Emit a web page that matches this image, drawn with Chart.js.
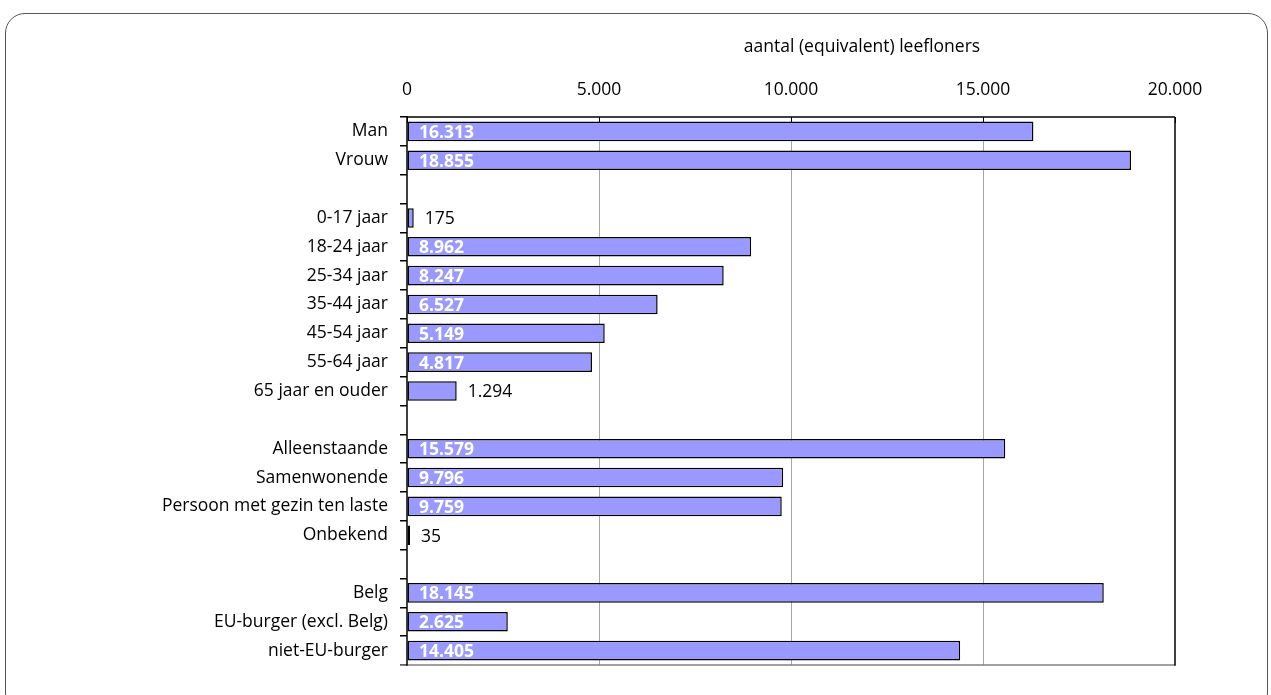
<!DOCTYPE html>
<html>
<head>
<meta charset="utf-8">
<script src="https://cdn.jsdelivr.net/npm/chart.js@4.4.1/dist/chart.umd.min.js"></script>
<style>
  html, body { margin: 0; padding: 0; background: #fff; overflow: hidden; }
  #wrap { position: relative; width: 1271px; height: 695px; overflow: hidden; }
  #frame { position: absolute; left: 5px; top: 13px; width: 1263px; height: 700px;
           border: 1.5px solid #555; border-radius: 20px; box-sizing: border-box; }
  canvas { position: absolute; left: 0; top: 0; }
</style>
</head>
<body>
<div id="wrap">
  <div id="frame"></div>
  <canvas id="c" width="1271" height="695"></canvas>
</div>
<script>
const categories = [
  'Man', 'Vrouw', '',
  '0-17 jaar', '18-24 jaar', '25-34 jaar', '35-44 jaar', '45-54 jaar', '55-64 jaar', '65 jaar en ouder', '',
  'Alleenstaande', 'Samenwonende', 'Persoon met gezin ten laste', 'Onbekend', '',
  'Belg', 'EU-burger (excl. Belg)', 'niet-EU-burger'
];
const values = [
  16313, 18855, null,
  175, 8962, 8247, 6527, 5149, 4817, 1294, null,
  15579, 9796, 9759, 35, null,
  18145, 2625, 14405
];
const xTickValues = [0, 5000, 10000, 15000, 20000];
const axisTitle = 'aantal (equivalent) leefloners';

const FONT = '"Open Sans", Lato, sans-serif';
const FSIZE = 17.5;

function fmt(v) {
  return String(Math.round(v)).replace(/\B(?=(\d{3})+(?!\d))/g, '.');
}

const labelPlugin = {
  id: 'valueLabels',
  afterDatasetsDraw(chart) {
    const ctx = chart.ctx;
    const meta = chart.getDatasetMeta(0);
    const x0 = chart.scales.x.getPixelForValue(0);
    ctx.save();
    ctx.textBaseline = 'middle';
    meta.data.forEach((bar, i) => {
      const v = values[i];
      if (v == null) return;
      const txt = fmt(v);
      if (bar.x - x0 > 70) {
        ctx.fillStyle = '#ffffff';
        ctx.font = 'bold ' + FSIZE + 'px ' + FONT;
        ctx.textAlign = 'left';
        ctx.fillText(txt, x0 + 12, bar.y + 1.5);
      } else {
        ctx.fillStyle = '#000000';
        ctx.font = FSIZE + 'px ' + FONT;
        ctx.textAlign = 'left';
        ctx.fillText(txt, bar.x + 11, bar.y + 1.5);
      }
    });
    ctx.restore();
  }
};

const framePlugin = {
  id: 'plotFrame',
  afterDraw(chart) {
    const ctx = chart.ctx;
    const a = chart.chartArea;
    const xs = chart.scales.x;
    ctx.save();
    ctx.fillStyle = '#000';
    ctx.font = FSIZE + 'px ' + FONT;
    ctx.textAlign = 'center';
    ctx.textBaseline = 'middle';
    ctx.fillText(axisTitle, 862, 47);
    ctx.strokeStyle = '#808080';
    ctx.lineWidth = 1.5;
    ctx.beginPath();
    ctx.moveTo(a.left - 7, a.bottom);
    ctx.lineTo(a.right, a.bottom);
    ctx.stroke();
    ctx.strokeStyle = '#000';
    ctx.lineWidth = 1.5;
    ctx.beginPath();
    ctx.moveTo(a.right, a.top);
    ctx.lineTo(a.right, a.bottom + 0.75);
    ctx.stroke();
    ctx.beginPath();
    ctx.moveTo(a.left, a.top);
    ctx.lineTo(a.right, a.top);
    ctx.stroke();
    ctx.lineWidth = 1;
    xTickValues.forEach(v => {
      const px = Math.round(xs.getPixelForValue(v)) + 0.5;
      ctx.beginPath();
      ctx.moveTo(px, a.top);
      ctx.lineTo(px, a.top + 6);
      ctx.stroke();
    });
    ctx.lineWidth = 1.5;
    ctx.beginPath();
    ctx.moveTo(a.left, a.top - 1);
    ctx.lineTo(a.left, a.bottom + 0.75);
    ctx.stroke();
    ctx.restore();
  }
};

new Chart(document.getElementById('c'), {
  type: 'bar',
  data: {
    labels: categories,
    datasets: [{
      data: values,
      backgroundColor: '#9999FF',
      borderColor: '#000000',
      borderWidth: 1.5,
      borderSkipped: false,
      minBarLength: 3,
      categoryPercentage: 1.0,
      barPercentage: 0.68
    }]
  },
  options: {
    indexAxis: 'y',
    responsive: false,
    animation: false,
    devicePixelRatio: 1,
    layout: { padding: { left: 0, top: 0, right: 96, bottom: 30 } },
    plugins: {
      legend: { display: false },
      tooltip: { enabled: false }
    },
    scales: {
      x: {
        position: 'top',
        min: 0,
        max: 20000,
        afterBuildTicks(scale) {
          scale.ticks = xTickValues.map(v => ({ value: v }));
        },
        afterFit(scale) { scale.height = 117; },
        ticks: {
          color: '#000',
          font: { family: FONT, size: FSIZE },
          padding: 16,
          maxRotation: 0,
          callback: (v) => fmt(v)
        },
        grid: {
          drawTicks: false,
          color: (c) => (c.tick && (c.tick.value === 0 || c.tick.value === 20000)) ? 'rgba(0,0,0,0)' : '#A6A6A6',
          lineWidth: 1
        },
        border: { display: false },
        title: { display: false }
      },
      y: {
        afterFit(scale) { scale.width = 407; },
        ticks: {
          color: '#000',
          font: { family: FONT, size: FSIZE },
          padding: 12,
          autoSkip: false
        },
        grid: {
          offset: true,
          drawOnChartArea: false,
          drawTicks: true,
          tickLength: 7,
          color: '#000',
          lineWidth: 1.5
        },
        border: { display: false }
      }
    }
  },
  plugins: [labelPlugin, framePlugin]
});
</script>
</body>
</html>
